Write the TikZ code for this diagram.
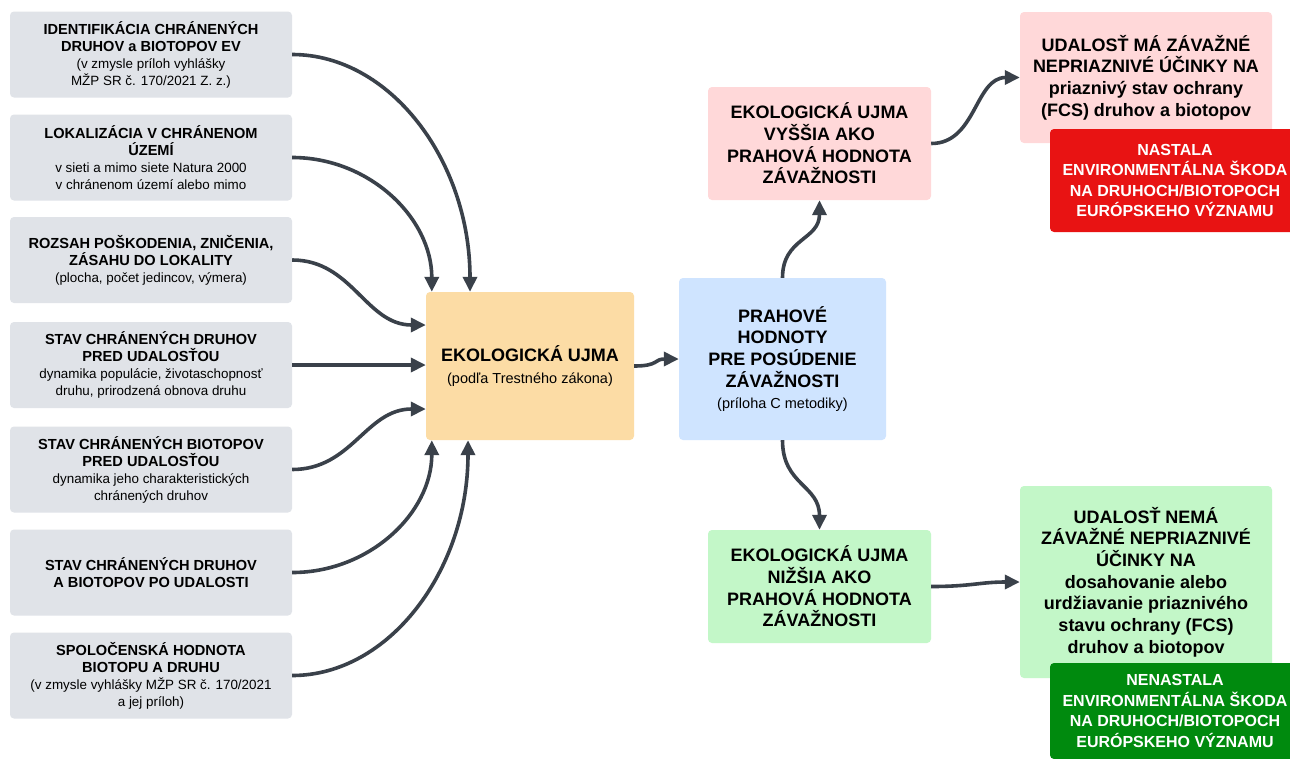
\documentclass[tikz,border=0pt]{standalone}
\usepackage{fontspec}
\setmainfont{Liberation Sans}
\usetikzlibrary{arrows.meta}
\definecolor{boxgray}{HTML}{E0E3E8}
\definecolor{boxorange}{HTML}{FCDCA5}
\definecolor{boxblue}{HTML}{CFE4FF}
\definecolor{boxpink}{HTML}{FFD8D9}
\definecolor{boxgreen}{HTML}{C3F7C8}
\definecolor{boxred}{HTML}{E81313}
\definecolor{boxdkgreen}{HTML}{008A0E}
\definecolor{arrowcol}{HTML}{3A414A}
\newcommand{\tfnt}{\fontsize{14.6}{17}\selectfont\bfseries}
\newcommand{\sfnt}{\fontsize{13.4}{17}\selectfont\mdseries}
\newcommand{\bfnt}{\fontsize{18}{21.7}\selectfont\bfseries}
\newcommand{\bsub}{\fontsize{14.5}{21.7}\selectfont\mdseries}
\newcommand{\wfnt}{\fontsize{16}{20.5}\selectfont\bfseries}
\begin{document}
\begin{tikzpicture}[x=1pt,y=-1pt,
  box/.style={rounded corners=4pt, inner sep=0pt, align=center, text=black},
  leftbox/.style={box, fill=boxgray, minimum width=282, minimum height=86, font=\tfnt},
  bigbox/.style={box, font=\bfnt},
  whitebox/.style={box, text=white, font=\wfnt},
  conn/.style={draw=arrowcol, line width=3.6pt, -{Triangle[length=15pt,width=14pt]}}]
\clip (0,0) rectangle (1290,758);
\fill[white] (0,0) rectangle (1290,758);

% left column
\node[leftbox] (L1) at (151,54.5) {IDENTIFIKÁCIA CHRÁNENÝCH\\DRUHOV a BIOTOPOV EV\\{\sfnt (v zmysle príloh vyhlášky}\\{\sfnt MŽP SR č. 170/2021 Z. z.)}};
\node[leftbox] (L2) at (151,157.5) {LOKALIZÁCIA V CHRÁNENOM\\ÚZEMÍ\\{\sfnt v sieti a mimo siete Natura 2000}\\{\sfnt v chránenom území alebo mimo}};
\node[leftbox] (L3) at (151,260) {ROZSAH POŠKODENIA, ZNIČENIA,\\ZÁSAHU DO LOKALITY\\{\sfnt (plocha, počet jedincov, výmera)}};
\node[leftbox] (L4) at (151,365) {STAV CHRÁNENÝCH DRUHOV\\PRED UDALOSŤOU\\{\sfnt dynamika populácie, životaschopnosť}\\{\sfnt druhu, prirodzená obnova druhu}};
\node[leftbox] (L5) at (151,469.5) {STAV CHRÁNENÝCH BIOTOPOV\\PRED UDALOSŤOU\\{\sfnt dynamika jeho charakteristických}\\{\sfnt chránených druhov}};
\node[leftbox] (L6) at (151,572.5) {STAV CHRÁNENÝCH DRUHOV\\A BIOTOPOV PO UDALOSTI};
\node[leftbox] (L7) at (151,675.5) {SPOLOČENSKÁ HODNOTA\\BIOTOPU A DRUHU\\{\sfnt (v zmysle vyhlášky MŽP SR č. 170/2021}\\{\sfnt a jej príloh)}};

% centre
\node[bigbox, fill=boxorange, minimum width=208, minimum height=148] (eko) at (530,366) {EKOLOGICKÁ UJMA\\{\bsub (podľa Trestného zákona)}};
\node[bigbox, fill=boxblue, minimum width=207, minimum height=162] (prah) at (782.5,359) {PRAHOVÉ\\HODNOTY\\PRE POSÚDENIE\\ZÁVAŽNOSTI\\{\bsub (príloha C metodiky)}};
\node[bigbox, fill=boxpink, minimum width=223, minimum height=113] (vyssia) at (819.5,143.5) {EKOLOGICKÁ UJMA\\VYŠŠIA AKO\\PRAHOVÁ HODNOTA\\ZÁVAŽNOSTI};
\node[bigbox, fill=boxgreen, minimum width=223, minimum height=113] (nizsia) at (819.5,586.5) {EKOLOGICKÁ UJMA\\NIŽŠIA AKO\\PRAHOVÁ HODNOTA\\ZÁVAŽNOSTI};

% right
\node[bigbox, fill=boxpink, minimum width=252, minimum height=131] (ma) at (1146,77.5) {UDALOSŤ MÁ ZÁVAŽNÉ\\NEPRIAZNIVÉ ÚČINKY NA\\priaznivý stav ochrany\\(FCS) druhov a biotopov};
\node[whitebox, fill=boxred, minimum width=250, minimum height=103] (nastala) at (1175,180.5) {NASTALA\\ENVIRONMENTÁLNA ŠKODA\\NA DRUHOCH/BIOTOPOCH\\EURÓPSKEHO VÝZNAMU};
\node[bigbox, fill=boxgreen, minimum width=252, minimum height=192] (nema) at (1146,582) {UDALOSŤ NEMÁ\\ZÁVAŽNÉ NEPRIAZNIVÉ\\ÚČINKY NA\\dosahovanie alebo\\urdžiavanie priaznivého\\stavu ochrany (FCS)\\druhov a biotopov};
\node[whitebox, fill=boxdkgreen, minimum width=250, minimum height=96] (nenastala) at (1175,711) {NENASTALA\\ENVIRONMENTÁLNA ŠKODA\\NA DRUHOCH/BIOTOPOCH\\EURÓPSKEHO VÝZNAMU};

% connectors
\draw[conn] (L1.east) .. controls +(98,0) and +(0,-131) .. ([xshift=-60pt]eko.north);
\draw[conn] (L2.east) .. controls +(77,0) and +(0,-74) .. ([xshift=6pt]eko.north west);
\draw[conn] (L3.east) .. controls +(60,0) and +(-60,0) .. ([yshift=41pt]eko.west);
\draw[conn] (L4.east) -- (L4.east -| eko.west);
\draw[conn] (L5.east) .. controls +(60,0) and +(-60,0) .. ([yshift=-43pt]eko.west);
\draw[conn] (L6.east) .. controls +(77,0) and +(0,73) .. ([xshift=6pt]eko.south west);
\draw[conn] (L7.east) .. controls +(97,0) and +(0,130) .. ([xshift=-62pt]eko.south);

\draw[conn] (eko.east) .. controls +(25,0) and +(-25,0) .. (prah.west);
\draw[conn] (prah.north) .. controls +(0,-40) and +(0,40) .. (vyssia.south);
\draw[conn] (prah.south) .. controls +(0,45) and +(0,-45) .. (nizsia.north);
\draw[conn] (vyssia.east) .. controls +(45,0) and +(-45,0) .. (ma.west);
\draw[conn] (nizsia.east) .. controls +(40,0) and +(-40,0) .. (nema.west);
\end{tikzpicture}
\end{document}
